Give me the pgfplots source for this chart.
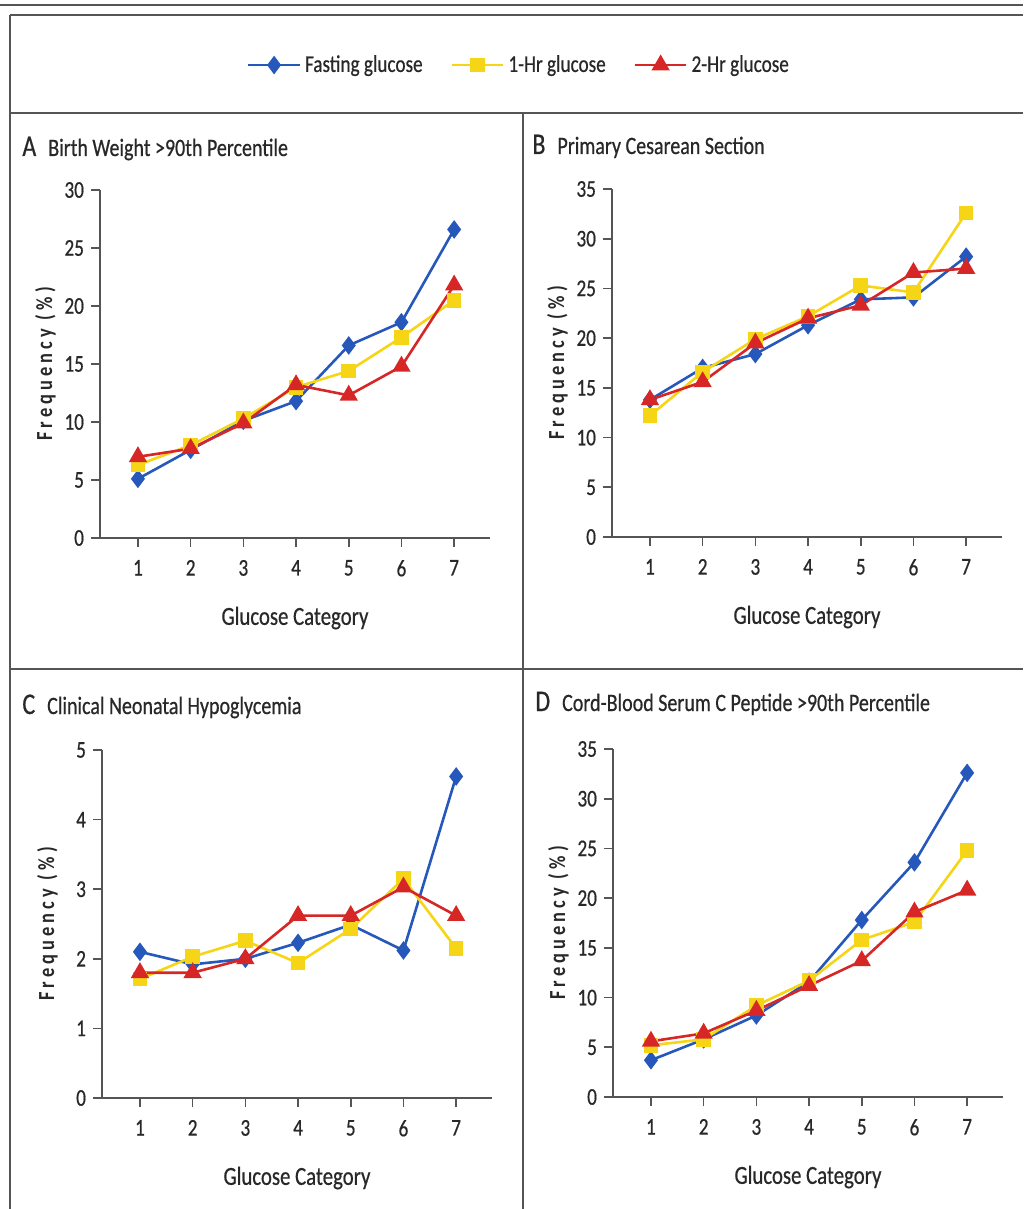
\documentclass[border=0pt]{standalone}
\usepackage{fontspec}
\setmainfont{Carlito}[FakeStretch=0.8, UprightFeatures={FakeBold=0.6}]
\usepackage{pgfplots}
\usepackage{pgfplotstable}
\pgfplotsset{compat=1.18}

\definecolor{fblue}{RGB}{38,88,188}
\definecolor{hyellow}{RGB}{246,212,22}
\definecolor{hred}{RGB}{214,38,38}
\definecolor{ink}{RGB}{40,40,40}
\definecolor{rule}{RGB}{85,85,85}

% x = glucose category, values in %
\pgfplotstableread{
x fast one two
1 5.1  6.3  7.0
2 7.6  8.0  7.7
3 10.1 10.3 9.9
4 11.8 13.0 13.2
5 16.6 14.4 12.3
6 18.6 17.3 14.8
7 26.6 20.5 21.8
}\birthwt
\pgfplotstableread{
x fast one two
1 13.8 12.2 13.8
2 17.0 16.6 15.6
3 18.4 19.9 19.5
4 21.3 22.2 22.0
5 23.9 25.3 23.3
6 24.1 24.6 26.6
7 28.2 32.6 27.0
}\cesarean
\pgfplotstableread{
x fast one two
1 2.10 1.71 1.80
2 1.92 2.03 1.80
3 2.00 2.26 2.00
4 2.23 1.94 2.62
5 2.49 2.43 2.62
6 2.12 3.15 3.03
7 4.62 2.15 2.62
}\hypogly
\pgfplotstableread{
x fast one two
1 3.7  5.2  5.6
2 5.8  5.8  6.4
3 8.2  9.2  8.7
4 11.6 11.7 11.2
5 17.8 15.8 13.7
6 23.6 17.6 18.6
7 32.6 24.8 20.8
}\cpeptide

\pgfplotsset{
  panel/.style={
    scale only axis, width=195pt, height=174pt,
    xmin=0.28, xmax=7.68, ymin=0,
    axis x line=bottom, axis y line=left,
    axis line style={-, draw=rule, line width=0.9pt},
    xtick={1,...,7},
    tick align=outside, major tick length=4.5pt,
    tick style={draw=rule, line width=0.8pt},
    /pgf/number format/assume math mode=true,
    ticklabel style={font=\fontsize{12}{12}\selectfont, text=ink},
    xticklabel style={yshift=-3pt},
    xlabel={Glucose Category},
    ylabel={Frequency (\%)},
    xlabel style={at={(axis description cs:0.5,-0.23)}, anchor=center,
      text=ink, font=\fontsize{13}{13}\selectfont},
    ylabel style={at={(axis description cs:-0.14,0.5)}, anchor=center,
      text=ink, font=\fontsize{11.5}{12}\selectfont\bfseries\addfontfeature{LetterSpace=18}},
  },
  fastline/.style={color=fblue, line width=1.3pt, mark=diamond*, mark size=3.6pt},
  oneline/.style={color=hyellow, line width=1.3pt, mark=square*, mark size=3pt},
  twoline/.style={color=hred, line width=1.3pt, mark=triangle*, mark size=4pt},
}

\begin{document}
\begin{tikzpicture}
\useasboundingbox (0,0) rectangle (511.5pt,-604.5pt);

% frame and panel rules
\begin{scope}[draw=rule, line width=1pt]
  \draw (0,-2.5pt) -- (511.5pt,-2.5pt);
  \draw (5pt,-7.5pt) -- (511.5pt,-7.5pt);
  \draw (5pt,-7.5pt) -- (5pt,-604.5pt);
  \draw (5pt,-56.5pt) -- (511.5pt,-56.5pt);
  \draw (5pt,-334.5pt) -- (511.5pt,-334.5pt);
  \draw (261.5pt,-56.5pt) -- (261.5pt,-604.5pt);
\end{scope}

% panel titles
\begin{scope}[text=ink, font=\fontsize{12.5}{13}\selectfont]
  \node[anchor=base west, inner sep=0] at (11pt,-78pt)
    {{\fontsize{15}{15}\selectfont A}\hspace{6pt}Birth Weight >90th Percentile};
  \node[anchor=base west, inner sep=0] at (266pt,-77pt)
    {{\fontsize{15}{15}\selectfont B}\hspace{6pt}Primary Cesarean Section};
  \node[anchor=base west, inner sep=0] at (11pt,-357pt)
    {{\fontsize{15}{15}\selectfont C}\hspace{6pt}Clinical Neonatal Hypoglycemia};
  \node[anchor=base west, inner sep=0] at (267.5pt,-355.5pt)
    {{\fontsize{15}{15}\selectfont D}\hspace{6pt}Cord-Blood Serum C Peptide >90th Percentile};
\end{scope}

% A
\begin{axis}[panel, at={(50pt,-269pt)}, anchor=south west,
    ymax=30, ytick={0,5,...,30},
    legend columns=3,
    legend style={at={(axis description cs:1.077,1.359)}, anchor=center,
      draw=none, fill=none, text=ink, font=\fontsize{12}{12}\selectfont,
      /tikz/every even column/.append style={column sep=12pt}},
    legend image code/.code={\draw[mark repeat=2, mark phase=2]
      plot coordinates {(0cm,0cm) (0.45cm,0cm) (0.9cm,0cm)};}]
  \addplot[fastline] table[x=x, y=fast] {\birthwt};
  \addlegendentry{Fasting glucose}
  \addplot[oneline] table[x=x, y=one] {\birthwt};
  \addlegendentry{1-Hr glucose}
  \addplot[twoline] table[x=x, y=two] {\birthwt};
  \addlegendentry{2-Hr glucose}
\end{axis}

% B
\begin{axis}[panel, at={(306pt,-268.5pt)}, anchor=south west,
    ymax=35, ytick={0,5,...,35}]
  \addplot[fastline] table[x=x, y=fast] {\cesarean};
  \addplot[oneline] table[x=x, y=one] {\cesarean};
  \addplot[twoline] table[x=x, y=two] {\cesarean};
\end{axis}

% C
\begin{axis}[panel, at={(51pt,-549pt)}, anchor=south west,
    ymax=5, ytick={0,1,...,5}]
  \addplot[fastline] table[x=x, y=fast] {\hypogly};
  \addplot[oneline] table[x=x, y=one] {\hypogly};
  \addplot[twoline] table[x=x, y=two] {\hypogly};
\end{axis}

% D
\begin{axis}[panel, at={(306.5pt,-548.5pt)}, anchor=south west,
    ymax=35, ytick={0,5,...,35}]
  \addplot[fastline] table[x=x, y=fast] {\cpeptide};
  \addplot[oneline] table[x=x, y=one] {\cpeptide};
  \addplot[twoline] table[x=x, y=two] {\cpeptide};
\end{axis}
\end{tikzpicture}
\end{document}
